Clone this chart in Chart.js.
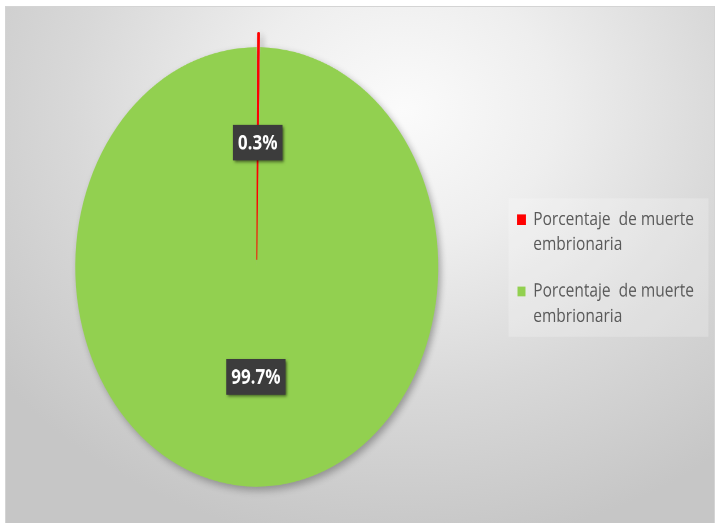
<!DOCTYPE html>
<html>
<head>
<meta charset="utf-8">
<script src="https://cdn.jsdelivr.net/npm/chart.js@4/dist/chart.umd.min.js"></script>
<style>
    html, body { margin: 0; padding: 0; background: #fff; }
    body { width: 715px; height: 523px; position: relative; overflow: hidden; }
    #marco {
        position: absolute; left: 5px; top: 6px; width: 708px; height: 516px;
        border: 1px solid #d4d4d4;
        background: radial-gradient(ellipse 72% 85% at 56% 20%, #fbfbfb 0%, #eeeeee 30%, #d8d8d8 65%, #c6c6c6 100%);
    }
    /* the chart is laid out 432px tall and stretched to the full height */
    #lienzo {
        position: absolute; left: 0; top: 0; width: 715px; height: 432px;
        transform: scaleY(1.2106); transform-origin: 0 0;
    }
</style>
</head>
<body>
<div id="marco"></div>
<div id="lienzo"><canvas id="myChart"></canvas></div>
<script>
const categorias = [
    ['Porcentaje  de muerte', 'embrionaria'],
    ['Porcentaje  de muerte', 'embrionaria']
];
const porcentajes = [0.3, 99.7];
const colores = ['#ff0000', '#92d050'];

Chart.defaults.font.family = "'Open Sans', sans-serif";

// fondo claro detras de la leyenda
const fondoLeyenda = {
    id: 'fondoLeyenda',
    beforeDraw(chart) {
        const leg = chart.legend;
        if (!leg || !leg.legendHitBoxes.length) return;
        const boxes = leg.legendHitBoxes;
        const first = boxes[0], last = boxes[boxes.length - 1];
        const ctx = chart.ctx;
        ctx.save();
        ctx.fillStyle = 'rgba(255,255,255,0.22)';
        ctx.fillRect(first.left - 9, first.top - 10, 200, last.top + last.height - first.top + 14);
        ctx.restore();
    }
};

// sombra suave bajo el pastel; la rebanada roja se repinta encima sin sombra
const sombra = {
    id: 'sombra',
    beforeDatasetsDraw(chart) {
        const ctx = chart.ctx;
        ctx.save();
        ctx.shadowColor = 'rgba(0,0,0,0.30)';
        ctx.shadowBlur = 14;
        ctx.shadowOffsetX = 5;
        ctx.shadowOffsetY = 6;
    },
    afterDatasetsDraw(chart) {
        const ctx = chart.ctx;
        ctx.restore();
        chart.getDatasetMeta(0).data[0].draw(ctx);
    }
};

// etiquetas de porcentaje en cajas oscuras
const etiquetas = {
    id: 'etiquetas',
    afterDatasetsDraw(chart) {
        const ctx = chart.ctx;
        const meta = chart.getDatasetMeta(0);
        const ds = chart.data.datasets[0];
        ctx.save();
        ctx.font = "bold 17px 'Open Sans', sans-serif";
        ctx.textAlign = 'center';
        ctx.textBaseline = 'middle';
        meta.data.forEach(function (arc, i) {
            const p = arc.tooltipPosition();
            const texto = ds.data[i].toFixed(1) + '%';
            const w = ctx.measureText(texto).width + 10;
            const h = 29.5;
            ctx.shadowColor = 'rgba(0,0,0,0.55)';
            ctx.shadowBlur = 5;
            ctx.shadowOffsetX = 3;
            ctx.shadowOffsetY = 3;
            ctx.fillStyle = '#3c3c3c';
            ctx.fillRect(p.x - w / 2, p.y - h / 2, w, h);
            ctx.shadowColor = 'transparent';
            ctx.fillStyle = '#ffffff';
            ctx.fillText(texto, p.x, p.y + 1);
        });
        ctx.restore();
    }
};

const ctx = document.getElementById('myChart');

new Chart(ctx, {
    type: 'pie',
    data: {
        labels: categorias,
        datasets: [{
            data: porcentajes,
            backgroundColor: colores,
            borderColor: colores,
            borderWidth: [0.9, 0],
            offset: [24, 0],
            radius: 181.5
        }]
    },
    options: {
        responsive: true,
        maintainAspectRatio: false,
        devicePixelRatio: 2,
        animation: false,
        layout: {
            padding: {top: 15, bottom: 6, left: 14, right: 11}
        },
        plugins: {
            tooltip: {enabled: false},
            legend: {
                position: 'right',
                align: 'center',
                title: {display: true, text: '', padding: 0, font: {size: 7, lineHeight: 1}},
                labels: {
                    boxWidth: 8,
                    boxHeight: 8,
                    padding: 18,
                    color: '#595959',
                    font: {size: 15.5, lineHeight: 1.33}
                }
            }
        }
    },
    plugins: [fondoLeyenda, sombra, etiquetas]
});
</script>
</body>
</html>
